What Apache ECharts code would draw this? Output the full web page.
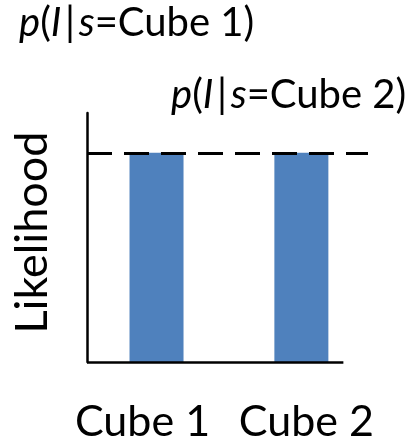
<!DOCTYPE html>
<html>
<head>
<meta charset="utf-8">
<script src="https://cdn.jsdelivr.net/npm/echarts@6/dist/echarts.min.js"></script>
<style>
  html, body { margin: 0; padding: 0; background: #fff; }
  #chart { width: 410px; height: 440px; }
</style>
</head>
<body>
<div id="chart"></div>
<script>
// Likelihood of the image under each hypothesis
const categories = ['Cube 1', 'Cube 2'];
const positions = [1, 2];
const likelihood = [1, 1];
const hypothesisLabels = [
  '{i|p}({i|I}{s| }|{s| }{i|s}=Cube 1)',
  '{i|p}({i|I}{s| }|{s| }{i|s}=Cube 2)'
];

const FONT = 'Lato, "Open Sans", sans-serif';
const BLUE = '#4F81BD';

const xMin = 0.52;     // left edge of the plot area
const xAxisEnd = 2.29; // where the baseline stops
const xMax = 2.46;     // room for the dashed level line

const chart = echarts.init(document.getElementById('chart'), null, { renderer: 'canvas' });

const titleRich = {
  i: { fontStyle: 'italic', fontFamily: FONT, fontSize: 40, color: '#000' },
  s: { fontFamily: FONT, fontSize: 14, color: '#000' }
};

chart.setOption({
  animation: false,
  backgroundColor: '#fff',
  title: [
    {
      text: hypothesisLabels[0],
      left: 14, top: -2,
      textStyle: { fontFamily: FONT, fontSize: 40, fontWeight: 'normal', color: '#000', rich: titleRich }
    },
    {
      text: hypothesisLabels[1],
      left: 166, top: 70,
      textStyle: { fontFamily: FONT, fontSize: 40, fontWeight: 'normal', color: '#000', rich: titleRich }
    }
  ],
  grid: { left: 87, right: 42, top: 113, bottom: 78, containLabel: false, outerBoundsMode: 'none' },
  xAxis: {
    type: 'value',
    min: xMin,
    max: xMax,
    axisLine: { show: false },
    axisTick: { show: false },
    splitLine: { show: false },
    axisLabel: {
      customValues: positions,
      margin: 39,
      color: '#000',
      formatter: function (v) {
        const idx = positions.indexOf(v);
        return idx === 0 ? '{a|' + categories[0] + '}' : '{b|' + categories[1] + '}';
      },
      rich: {
        a: { fontFamily: FONT, fontSize: 43, color: '#000', padding: [0, 28, 0, 0] },
        b: { fontFamily: FONT, fontSize: 43, color: '#000', padding: [0, 0, 0, 10] }
      }
    }
  },
  yAxis: {
    type: 'value',
    min: 0,
    max: 1.19,
    name: 'Likelihood',
    nameLocation: 'middle',
    nameGap: 32,
    nameRotate: 90,
    nameTextStyle: { fontFamily: FONT, fontSize: 45, color: '#000', padding: [0, 0, 0, 10] },
    axisLine: { show: true, lineStyle: { color: '#000', width: 2.5 } },
    axisTick: { show: false },
    axisLabel: { show: false },
    splitLine: { show: false }
  },
  series: [
    {
      type: 'bar',
      barWidth: 54,
      itemStyle: { color: BLUE },
      data: positions.map((p, i) => [p, likelihood[i]]),
      markLine: {
        silent: true,
        symbol: 'none',
        label: { show: false },
        data: [
          [
            { coord: [xMin, likelihood[0]], lineStyle: { color: '#000', width: 3, type: [25, 12] } },
            { coord: [xMax, likelihood[0]] }
          ],
          [
            { coord: [xMin, 0], lineStyle: { color: '#000', width: 2.5, type: 'solid' } },
            { coord: [xAxisEnd, 0] }
          ]
        ]
      }
    }
  ]
});
</script>
</body>
</html>
